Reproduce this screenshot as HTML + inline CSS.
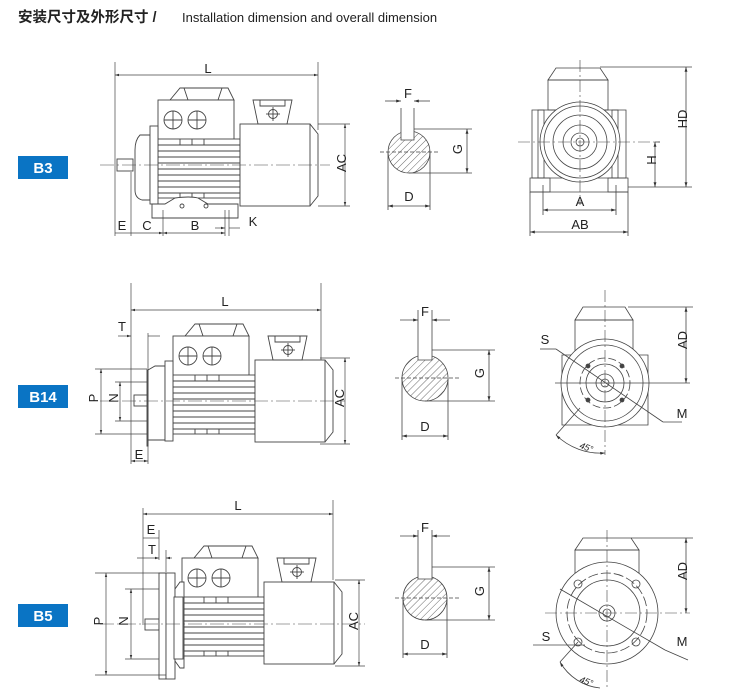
<!DOCTYPE html>
<html><head><meta charset="utf-8"><style>
html,body{margin:0;padding:0;background:#fff;width:747px;height:694px;overflow:hidden}
svg{display:block}
text{font-family:"Liberation Sans",Arial,sans-serif;fill:#222}
</style></head><body>
<svg width="747" height="694" viewBox="0 0 747 694" xmlns="http://www.w3.org/2000/svg">
<defs>
<marker id="a" viewBox="0 0 10 10" refX="10" refY="5" markerWidth="6" markerHeight="6" orient="auto-start-reverse"><path d="M0,2 L10,5 L0,8z" fill="#333"/></marker>
<pattern id="h" width="5" height="5" patternUnits="userSpaceOnUse" patternTransform="rotate(45)"><line x1="0" y1="0" x2="0" y2="5" stroke="#444" stroke-width="0.8"/></pattern>
<g id="body" fill="none" stroke="#444" stroke-width="0.9">
  <!-- terminal box -->
  <path d="M170,100 L180,88 L228,88 L234,100 Z" fill="#fff"/>
  <line x1="184" y1="88" x2="188" y2="100"/><line x1="222" y1="88" x2="218" y2="100"/>
  <rect x="158" y="100" width="76" height="40" fill="#fff"/>
  <circle cx="173" cy="120" r="9"/><circle cx="197" cy="120" r="9"/>
  <line x1="164" y1="120" x2="182" y2="120"/><line x1="173" y1="111" x2="173" y2="129"/>
  <line x1="188" y1="120" x2="206" y2="120"/><line x1="197" y1="111" x2="197" y2="129"/>
  <!-- finned body -->
  <rect x="158" y="139" width="82" height="59" fill="#fff"/>
  <path d="M158,145 H240 M158,151 H240 M158,157 H240 M158,163 H240 M158,169 H240 M158,175 H240 M158,181 H240 M158,187 H240 M158,193 H240"/>
  <path d="M180,139 V145 M192,139 V145 M204,139 V145 M180,193 V198 M192,193 V198 M204,193 V198"/>
  <!-- fan cover -->
  <rect x="240" y="124" width="70" height="82" fill="#fff"/>
  <path d="M310,124 L318,134 L318,196 L310,206"/>
  <!-- lifting eye -->
  <path d="M253,100 H292 L287,124 H258 Z" fill="#fff"/>
  <path d="M260,100 V106 H285 V100"/>
  <circle cx="273" cy="114" r="4.5"/><line x1="266" y1="114" x2="280" y2="114"/><line x1="273" y1="107" x2="273" y2="121"/>
</g>
</defs>

<text x="18" y="22" font-size="14.5" font-weight="bold" style="font-family:'Liberation Sans','Noto Sans CJK SC',sans-serif">安装尺寸及外形尺寸 /</text>
<text x="182" y="22" font-size="13">Installation dimension and overall dimension</text>

<!-- labels -->
<rect x="18" y="156" width="50" height="23" fill="#0a74c4"/><text x="43" y="173" font-size="15" font-weight="bold" text-anchor="middle" style="fill:#fff">B3</text>
<rect x="18" y="385" width="50" height="23" fill="#0a74c4"/><text x="43" y="402" font-size="15" font-weight="bold" text-anchor="middle" style="fill:#fff">B14</text>
<rect x="18" y="604" width="50" height="23" fill="#0a74c4"/><text x="43" y="621" font-size="15" font-weight="bold" text-anchor="middle" style="fill:#fff">B5</text>

<!-- ===== B3 side ===== -->
<use href="#body"/>
<g fill="none" stroke="#444" stroke-width="0.9">
  <rect x="117" y="159" width="16" height="12" fill="#fff"/>
  <path d="M150,135 H140 Q135,140 135,150 V190 Q135,198 142,200 H150 Z" fill="#fff"/>
  <rect x="150" y="126" width="8" height="78" fill="#fff"/>
  <path d="M152,218 V204 H165 L175,198 Q190,196 198,198 L208,204 H238 V218 Z" fill="#fff"/>
  <circle cx="182" cy="206" r="2"/><circle cx="206" cy="206" r="2"/>
  <line x1="100" y1="165" x2="330" y2="165" stroke-dasharray="14,3,2,3" stroke-width="0.6"/>
</g>
<g stroke="#444" stroke-width="0.7" fill="none">
  <line x1="115" y1="62" x2="115" y2="236"/><line x1="318" y1="62" x2="318" y2="130"/>
  <line x1="115" y1="75" x2="318" y2="75" marker-start="url(#a)" marker-end="url(#a)"/>
  <line x1="318" y1="124" x2="350" y2="124"/><line x1="318" y1="206" x2="350" y2="206"/>
  <line x1="345" y1="124" x2="345" y2="206" marker-start="url(#a)" marker-end="url(#a)"/>
  <line x1="131" y1="172" x2="131" y2="236"/><line x1="163" y1="210" x2="163" y2="236"/><line x1="225" y1="210" x2="225" y2="236"/>
  <line x1="115" y1="233" x2="131" y2="233"/><line x1="131" y1="233" x2="163" y2="233" marker-end="url(#a)"/><line x1="163" y1="233" x2="225" y2="233" marker-start="url(#a)" marker-end="url(#a)"/>
  <line x1="229" y1="210" x2="229" y2="236"/><line x1="215" y1="228" x2="225" y2="228" marker-end="url(#a)"/><line x1="229" y1="228" x2="240" y2="228"/>
</g>
<text x="208" y="73" font-size="13" text-anchor="middle">L</text>
<text x="345" y="170" font-size="13" text-anchor="middle" transform="rotate(-90 342 166)">AC</text>
<text x="122" y="230" font-size="13" text-anchor="middle">E</text>
<text x="147" y="230" font-size="13" text-anchor="middle">C</text>
<text x="195" y="230" font-size="13" text-anchor="middle">B</text>
<text x="253" y="226" font-size="13" text-anchor="middle">K</text>

<!-- ===== B14 side ===== -->
<g transform="translate(15,236)"><use href="#body"/></g>
<g fill="none" stroke="#444" stroke-width="0.9">
  <rect x="134" y="395" width="14" height="11" fill="#fff"/>
  <path d="M147,370 H148 V446 H147 Z" fill="#fff"/>
  <path d="M148,370 L155,366 H165 V440 H148 Z" fill="#fff"/>
  <rect x="165" y="361" width="8" height="80" fill="#fff"/>
  <line x1="100" y1="401" x2="345" y2="401" stroke-dasharray="14,3,2,3" stroke-width="0.6"/>
</g>
<g stroke="#444" stroke-width="0.7" fill="none">
  <line x1="131" y1="283" x2="131" y2="464"/><line x1="321" y1="283" x2="321" y2="360"/>
  <line x1="131" y1="310" x2="321" y2="310" marker-start="url(#a)" marker-end="url(#a)"/>
  <line x1="118" y1="336" x2="131" y2="336" marker-end="url(#a)"/><line x1="148" y1="336" x2="160" y2="336"/>
  <line x1="148" y1="333" x2="148" y2="464"/>
  <line x1="131" y1="461" x2="148" y2="461" marker-start="url(#a)" marker-end="url(#a)"/>
  <line x1="95" y1="369" x2="147" y2="369"/><line x1="95" y1="434" x2="147" y2="434"/>
  <line x1="101" y1="369" x2="101" y2="434" marker-start="url(#a)" marker-end="url(#a)"/>
  <line x1="115" y1="382" x2="147" y2="382"/><line x1="115" y1="421" x2="147" y2="421"/>
  <line x1="120" y1="382" x2="120" y2="421" marker-start="url(#a)" marker-end="url(#a)"/>
  <line x1="320" y1="358" x2="350" y2="358"/><line x1="320" y1="444" x2="350" y2="444"/>
  <line x1="345" y1="358" x2="345" y2="444" marker-start="url(#a)" marker-end="url(#a)"/>
</g>
<text x="225" y="306" font-size="13" text-anchor="middle">L</text>
<text x="122" y="331" font-size="13" text-anchor="middle">T</text>
<text x="139" y="459" font-size="13" text-anchor="middle">E</text>
<text x="96" y="406" font-size="13" text-anchor="middle" transform="rotate(-90 93 401)">P</text>
<text x="116" y="406" font-size="13" text-anchor="middle" transform="rotate(-90 113 401)">N</text>
<text x="342" y="406" font-size="13" text-anchor="middle" transform="rotate(-90 339 401)">AC</text>

<!-- ===== B5 side ===== -->
<g transform="translate(24,458)"><use href="#body"/></g>
<g fill="none" stroke="#444" stroke-width="0.9">
  <rect x="145" y="619" width="14" height="11" fill="#fff"/>
  <rect x="159" y="573" width="7" height="106" fill="#fff"/>
  <rect x="166" y="573" width="9" height="106" fill="#fff"/>
  <path d="M175,589 L180,582 H184 V668 H180 L175,661 Z" fill="#fff"/>
  <rect x="174" y="597" width="9" height="62" fill="#fff"/>
  <line x1="100" y1="624" x2="365" y2="624" stroke-dasharray="14,3,2,3" stroke-width="0.6"/>
</g>
<g stroke="#444" stroke-width="0.7" fill="none">
  <line x1="143" y1="508" x2="143" y2="625"/><line x1="333" y1="500" x2="333" y2="580"/>
  <line x1="143" y1="514" x2="333" y2="514" marker-start="url(#a)" marker-end="url(#a)"/>
  <line x1="159" y1="530" x2="159" y2="560"/>
  <line x1="143" y1="538" x2="159" y2="538"/>
  <line x1="137" y1="558" x2="159" y2="558" marker-end="url(#a)"/><line x1="166" y1="558" x2="172" y2="558" marker-start="url(#a)"/>
  <line x1="166" y1="550" x2="166" y2="572"/>
  <line x1="95" y1="573" x2="166" y2="573"/><line x1="95" y1="675" x2="166" y2="675"/>
  <line x1="106" y1="573" x2="106" y2="675" marker-start="url(#a)" marker-end="url(#a)"/>
  <line x1="125" y1="589" x2="159" y2="589"/><line x1="125" y1="659" x2="159" y2="659"/>
  <line x1="131" y1="589" x2="131" y2="659" marker-start="url(#a)" marker-end="url(#a)"/>
  <line x1="335" y1="580" x2="365" y2="580"/><line x1="335" y1="666" x2="365" y2="666"/>
  <line x1="359" y1="580" x2="359" y2="666" marker-start="url(#a)" marker-end="url(#a)"/>
</g>
<text x="238" y="510" font-size="13" text-anchor="middle">L</text>
<text x="151" y="534" font-size="13" text-anchor="middle">E</text>
<text x="152" y="554" font-size="13" text-anchor="middle">T</text>
<text x="101" y="629" font-size="13" text-anchor="middle" transform="rotate(-90 98 624)">P</text>
<text x="126" y="629" font-size="13" text-anchor="middle" transform="rotate(-90 123 624)">N</text>
<text x="356" y="629" font-size="13" text-anchor="middle" transform="rotate(-90 353 624)">AC</text>

<!-- ===== Shaft sections ===== -->
<g stroke="#444" stroke-width="0.8" fill="none">
  <!-- B3 -->
  <circle cx="409" cy="152" r="21" fill="url(#h)"/>
  <rect x="401" y="112" width="13" height="28" fill="#fff" stroke="none"/>
  <path d="M401,108 V140 H414 V108"/>
  <line x1="380" y1="152" x2="440" y2="152" stroke-dasharray="4,2"/>
  <line x1="385" y1="101" x2="401" y2="101" marker-end="url(#a)"/><line x1="414" y1="101" x2="430" y2="101" marker-start="url(#a)"/>
  <line x1="414" y1="129" x2="472" y2="129"/><line x1="409" y1="173" x2="472" y2="173"/>
  <line x1="467" y1="129" x2="467" y2="173" marker-start="url(#a)" marker-end="url(#a)"/>
  <line x1="388" y1="152" x2="388" y2="210"/><line x1="430" y1="152" x2="430" y2="210"/>
  <line x1="388" y1="206" x2="430" y2="206" marker-start="url(#a)" marker-end="url(#a)"/>
  <!-- B14 -->
  <circle cx="425" cy="378" r="23" fill="url(#h)"/>
  <rect x="418" y="335" width="14" height="25" fill="#fff" stroke="none"/>
  <path d="M418,310 V360 H432 V310"/>
  <line x1="395" y1="378" x2="460" y2="378" stroke-dasharray="4,2"/>
  <line x1="400" y1="320" x2="418" y2="320" marker-end="url(#a)"/><line x1="432" y1="320" x2="450" y2="320" marker-start="url(#a)"/>
  <line x1="432" y1="350" x2="495" y2="350"/><line x1="425" y1="401" x2="495" y2="401"/>
  <line x1="489" y1="350" x2="489" y2="401" marker-start="url(#a)" marker-end="url(#a)"/>
  <line x1="402" y1="378" x2="402" y2="440"/><line x1="448" y1="378" x2="448" y2="440"/>
  <line x1="402" y1="436" x2="448" y2="436" marker-start="url(#a)" marker-end="url(#a)"/>
  <!-- B5 -->
  <circle cx="425" cy="598" r="22" fill="url(#h)"/>
  <rect x="418" y="560" width="14" height="19" fill="#fff" stroke="none"/>
  <path d="M418,530 V579 H432 V530"/>
  <line x1="395" y1="598" x2="460" y2="598" stroke-dasharray="4,2"/>
  <line x1="400" y1="536" x2="418" y2="536" marker-end="url(#a)"/><line x1="432" y1="536" x2="450" y2="536" marker-start="url(#a)"/>
  <line x1="432" y1="567" x2="495" y2="567"/><line x1="425" y1="620" x2="495" y2="620"/>
  <line x1="489" y1="567" x2="489" y2="620" marker-start="url(#a)" marker-end="url(#a)"/>
  <line x1="403" y1="598" x2="403" y2="658"/><line x1="447" y1="598" x2="447" y2="658"/>
  <line x1="403" y1="654" x2="447" y2="654" marker-start="url(#a)" marker-end="url(#a)"/>
</g>
<text x="408" y="98" font-size="13" text-anchor="middle">F</text>
<text x="461" y="156" font-size="13" text-anchor="middle" transform="rotate(-90 458 152)">G</text>
<text x="409" y="201" font-size="13" text-anchor="middle">D</text>
<text x="425" y="316" font-size="13" text-anchor="middle">F</text>
<text x="483" y="380" font-size="13" text-anchor="middle" transform="rotate(-90 480 376)">G</text>
<text x="425" y="431" font-size="13" text-anchor="middle">D</text>
<text x="425" y="532" font-size="13" text-anchor="middle">F</text>
<text x="483" y="598" font-size="13" text-anchor="middle" transform="rotate(-90 480 594)">G</text>
<text x="425" y="649" font-size="13" text-anchor="middle">D</text>

<!-- ===== End views ===== -->
<g stroke="#444" stroke-width="0.8" fill="none">
  <!-- B3 -->
  <path d="M548,80 L556,68 H600 L608,80 Z"/>
  <rect x="548" y="80" width="60" height="30"/>
  <path d="M532,110 H626 V178 H532 Z"/>
  <rect x="538" y="110" width="6" height="68"/><rect x="612" y="110" width="6" height="68"/>
  <path d="M530,178 H550 V192 H530 Z M608,178 H628 V192 H608 Z"/>
  <line x1="530" y1="192" x2="628" y2="192"/>
  <circle cx="580" cy="142" r="40" fill="#fff"/><circle cx="580" cy="142" r="36"/><circle cx="580" cy="142" r="27"/><circle cx="580" cy="142" r="17"/><circle cx="580" cy="142" r="9"/><circle cx="580" cy="142" r="4"/>
  <line x1="580" y1="60" x2="580" y2="205" stroke-dasharray="12,3,2,3" stroke-width="0.6"/>
  <line x1="518" y1="142" x2="660" y2="142" stroke-dasharray="12,3,2,3" stroke-width="0.6"/>
  <line x1="600" y1="67" x2="692" y2="67"/><line x1="628" y1="187" x2="692" y2="187"/>
  <line x1="686" y1="67" x2="686" y2="187" marker-start="url(#a)" marker-end="url(#a)"/>
  <line x1="655" y1="142" x2="660" y2="142"/><line x1="655" y1="142" x2="655" y2="187" marker-start="url(#a)" marker-end="url(#a)"/>
  <line x1="543" y1="185" x2="543" y2="215"/><line x1="616" y1="185" x2="616" y2="215"/>
  <line x1="543" y1="210" x2="616" y2="210" marker-start="url(#a)" marker-end="url(#a)"/>
  <line x1="530" y1="192" x2="530" y2="236"/><line x1="628" y1="192" x2="628" y2="236"/>
  <line x1="530" y1="232" x2="628" y2="232" marker-start="url(#a)" marker-end="url(#a)"/>
  <!-- B14 -->
  <path d="M575,320 L583,307 H625 L633,320 Z"/>
  <rect x="575" y="320" width="58" height="35"/>
  <path d="M562,355 H648 V425 H562 Z"/>
  <circle cx="605" cy="383" r="44" fill="#fff"/><circle cx="605" cy="383" r="38"/><circle cx="605" cy="383" r="25" stroke-dasharray="8,3"/><circle cx="605" cy="383" r="19"/><circle cx="605" cy="383" r="9"/><circle cx="605" cy="383" r="4"/>
  <circle cx="588" cy="366" r="2" fill="#444"/><circle cx="622" cy="366" r="2" fill="#444"/><circle cx="588" cy="400" r="2" fill="#444"/><circle cx="622" cy="400" r="2" fill="#444"/>
  <line x1="605" y1="290" x2="605" y2="455" stroke-dasharray="12,3,2,3" stroke-width="0.6"/>
  <line x1="555" y1="383" x2="690" y2="383"/>
  <line x1="540" y1="349" x2="556" y2="349"/><line x1="556" y1="349" x2="663" y2="422"/><line x1="663" y1="422" x2="682" y2="422"/>
  <line x1="628" y1="307" x2="693" y2="307"/><line x1="686" y1="307" x2="686" y2="383" marker-start="url(#a)" marker-end="url(#a)"/>
  <line x1="580" y1="408" x2="556" y2="435"/>
  <path d="M556,435 A64,64 0 0 0 605,453" marker-start="url(#a)" marker-end="url(#a)"/>
  <!-- B5 -->
  <path d="M575,550 L583,538 H631 L639,550 Z"/>
  <rect x="575" y="550" width="64" height="25"/>
  <circle cx="607" cy="613" r="51" fill="#fff"/><circle cx="607" cy="613" r="40" stroke-dasharray="10,3"/><circle cx="607" cy="613" r="33"/><circle cx="607" cy="613" r="8"/><circle cx="607" cy="613" r="4"/>
  <circle cx="578" cy="584" r="4"/><circle cx="636" cy="584" r="4"/><circle cx="578" cy="642" r="4"/><circle cx="636" cy="642" r="4"/>
  <line x1="607" y1="530" x2="607" y2="690" stroke-dasharray="12,3,2,3" stroke-width="0.6"/>
  <line x1="545" y1="613" x2="690" y2="613" stroke-dasharray="12,3,2,3" stroke-width="0.6"/>
  <line x1="560" y1="589" x2="665" y2="650"/><line x1="665" y1="650" x2="688" y2="660"/>
  <line x1="533" y1="645" x2="585" y2="645"/>
  <line x1="631" y1="538" x2="693" y2="538"/><line x1="686" y1="538" x2="686" y2="613" marker-start="url(#a)" marker-end="url(#a)"/>
  <line x1="578" y1="642" x2="560" y2="662"/>
  <path d="M560,662 A52,52 0 0 0 600,688" marker-start="url(#a)"/>
</g>
<text x="688" y="128" font-size="13" text-anchor="middle" transform="rotate(-90 683 124)">HD</text>
<text x="656" y="168" font-size="13" text-anchor="middle" transform="rotate(-90 652 164)">H</text>
<text x="580" y="206" font-size="13" text-anchor="middle">A</text>
<text x="580" y="229" font-size="13" text-anchor="middle">AB</text>
<text x="545" y="344" font-size="13" text-anchor="middle">S</text>
<text x="682" y="418" font-size="13" text-anchor="middle">M</text>
<text x="688" y="349" font-size="13" text-anchor="middle" transform="rotate(-90 683 345)">AD</text>
<text x="580" y="448" font-size="9" font-style="italic" transform="rotate(20 580 445)">45°</text>
<text x="546" y="641" font-size="13" text-anchor="middle">S</text>
<text x="682" y="646" font-size="13" text-anchor="middle">M</text>
<text x="688" y="580" font-size="13" text-anchor="middle" transform="rotate(-90 683 576)">AD</text>
<text x="580" y="682" font-size="9" font-style="italic" transform="rotate(20 580 679)">45°</text>
</svg>
</body></html>
